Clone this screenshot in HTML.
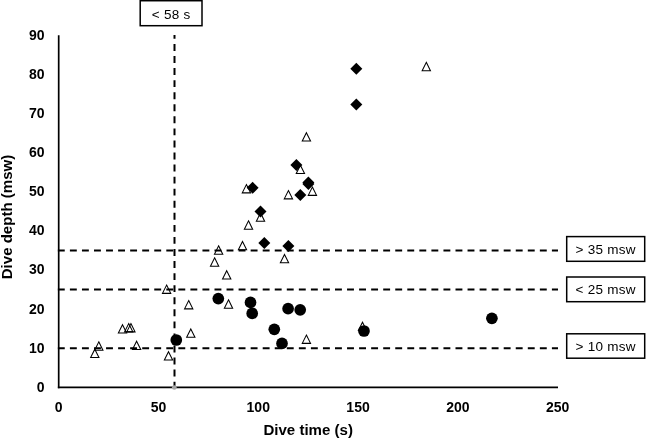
<!DOCTYPE html>
<html><head><meta charset="utf-8"><style>
html,body{margin:0;padding:0;background:#fff;}
body{width:646px;height:438px;overflow:hidden;}
svg{display:block;will-change:transform;}
path{fill:none;stroke:#000;stroke-width:1.05;stroke-linejoin:miter;}
path.d{fill:#000;stroke:none;}
circle.c{fill:#000;}
text{font-family:"Liberation Sans",sans-serif;fill:#000;}
.t{font-size:14px;font-weight:bold;}
.ti{font-size:15.5px;font-weight:bold;}
.b{font-size:13.5px;letter-spacing:0.25px;}
</style></head><body>
<svg width="646" height="438" viewBox="0 0 646 438">
<line x1="57.85" y1="250.4" x2="558" y2="250.4" stroke="#000" stroke-width="2" stroke-dasharray="6.9 5.15"/>
<line x1="57.85" y1="289.5" x2="558" y2="289.5" stroke="#000" stroke-width="2" stroke-dasharray="6.9 5.15"/>
<line x1="57.85" y1="348.15" x2="558" y2="348.15" stroke="#000" stroke-width="2" stroke-dasharray="6.9 5.15"/>
<line x1="174.5" y1="35" x2="174.5" y2="387" stroke="#000" stroke-width="2" stroke-dasharray="6.9 5.16" stroke-dashoffset="3.06"/>
<path d="M98.80 341.85L102.95 350.15L94.65 350.15Z"/>
<path d="M94.80 349.25L98.95 357.55L90.65 357.55Z"/>
<path d="M122.50 324.65L126.65 332.95L118.35 332.95Z"/>
<path d="M128.70 323.55L132.85 331.85L124.55 331.85Z"/>
<path d="M130.90 323.55L135.05 331.85L126.75 331.85Z"/>
<path d="M136.60 341.25L140.75 349.55L132.45 349.55Z"/>
<path d="M166.60 285.05L170.75 293.35L162.45 293.35Z"/>
<path d="M188.70 300.55L192.85 308.85L184.55 308.85Z"/>
<path d="M190.80 328.95L194.95 337.25L186.65 337.25Z"/>
<path d="M168.50 351.65L172.65 359.95L164.35 359.95Z"/>
<path d="M228.50 299.85L232.65 308.15L224.35 308.15Z"/>
<path d="M306.40 335.05L310.55 343.35L302.25 343.35Z"/>
<path d="M362.50 322.25L366.65 330.55L358.35 330.55Z"/>
<path d="M218.60 245.85L222.75 254.15L214.45 254.15Z"/>
<path d="M214.60 257.85L218.75 266.15L210.45 266.15Z"/>
<path d="M242.50 241.45L246.65 249.75L238.35 249.75Z"/>
<path d="M226.70 270.75L230.85 279.05L222.55 279.05Z"/>
<path d="M246.40 184.55L250.55 192.85L242.25 192.85Z"/>
<path d="M260.50 212.85L264.65 221.15L256.35 221.15Z"/>
<path d="M248.50 220.85L252.65 229.15L244.35 229.15Z"/>
<path d="M284.50 254.45L288.65 262.75L280.35 262.75Z"/>
<path d="M300.40 165.15L304.55 173.45L296.25 173.45Z"/>
<path d="M312.40 187.05L316.55 195.35L308.25 195.35Z"/>
<path d="M288.40 190.55L292.55 198.85L284.25 198.85Z"/>
<path d="M306.40 132.75L310.55 141.05L302.25 141.05Z"/>
<path d="M426.30 62.35L430.45 70.65L422.15 70.65Z"/>
<path class="d" d="M356.30 62.80L362.30 68.80L356.30 74.80L350.30 68.80Z"/>
<path class="d" d="M356.30 98.60L362.30 104.60L356.30 110.60L350.30 104.60Z"/>
<path class="d" d="M252.60 181.80L258.60 187.80L252.60 193.80L246.60 187.80Z"/>
<path class="d" d="M260.50 205.60L266.50 211.60L260.50 217.60L254.50 211.60Z"/>
<path class="d" d="M264.30 236.90L270.30 242.90L264.30 248.90L258.30 242.90Z"/>
<path class="d" d="M288.40 239.90L294.40 245.90L288.40 251.90L282.40 245.90Z"/>
<path class="d" d="M296.40 159.00L302.40 165.00L296.40 171.00L290.40 165.00Z"/>
<path class="d" d="M308.40 176.60L314.40 182.60L308.40 188.60L302.40 182.60Z"/>
<path class="d" d="M308.40 177.90L314.40 183.90L308.40 189.90L302.40 183.90Z"/>
<path class="d" d="M300.30 188.90L306.30 194.90L300.30 200.90L294.30 194.90Z"/>
<circle class="c" cx="176.30" cy="340.00" r="5.85"/>
<circle class="c" cx="218.30" cy="298.60" r="5.85"/>
<circle class="c" cx="250.50" cy="302.40" r="5.85"/>
<circle class="c" cx="252.20" cy="313.40" r="5.85"/>
<circle class="c" cx="274.30" cy="329.30" r="5.85"/>
<circle class="c" cx="288.10" cy="308.70" r="5.85"/>
<circle class="c" cx="300.20" cy="309.80" r="5.85"/>
<circle class="c" cx="282.00" cy="343.40" r="5.85"/>
<circle class="c" cx="364.00" cy="331.00" r="5.85"/>
<circle class="c" cx="491.90" cy="318.30" r="5.85"/>
<line x1="58.7" y1="35.2" x2="58.7" y2="388.15000000000003" stroke="#000" stroke-width="1.7"/>
<line x1="57.85" y1="387.3" x2="558" y2="387.3" stroke="#000" stroke-width="1.7"/>
<circle cx="174.3" cy="387.5" r="2.35" fill="#a6a6a6"/>
<text class="t" x="44.5" y="391.80" text-anchor="end">0</text>
<text class="t" x="44.5" y="352.69" text-anchor="end">10</text>
<text class="t" x="44.5" y="313.58" text-anchor="end">20</text>
<text class="t" x="44.5" y="274.47" text-anchor="end">30</text>
<text class="t" x="44.5" y="235.36" text-anchor="end">40</text>
<text class="t" x="44.5" y="196.25" text-anchor="end">50</text>
<text class="t" x="44.5" y="157.14" text-anchor="end">60</text>
<text class="t" x="44.5" y="118.03" text-anchor="end">70</text>
<text class="t" x="44.5" y="78.92" text-anchor="end">80</text>
<text class="t" x="44.5" y="39.81" text-anchor="end">90</text>
<text class="t" x="58.70" y="412.0" text-anchor="middle">0</text>
<text class="t" x="158.48" y="412.0" text-anchor="middle">50</text>
<text class="t" x="258.26" y="412.0" text-anchor="middle">100</text>
<text class="t" x="358.04" y="412.0" text-anchor="middle">150</text>
<text class="t" x="457.82" y="412.0" text-anchor="middle">200</text>
<text class="t" x="557.60" y="412.0" text-anchor="middle">250</text>
<text class="ti" transform="translate(308.2 434.7) scale(0.972 1)" text-anchor="middle">Dive time (s)</text>
<text class="ti" transform="translate(11.9 217) rotate(-90) scale(0.972 1)" text-anchor="middle">Dive depth (msw)</text>
<rect x="140.2" y="0.72" width="61.80" height="24.98" fill="#fff" stroke="#000" stroke-width="1.5"/>
<text class="b" x="171.10" y="18.6" text-anchor="middle">&lt; 58 s</text>
<rect x="566.7" y="236.6" width="78.00" height="24.70" fill="#fff" stroke="#000" stroke-width="1.5"/>
<text class="b" x="605.70" y="253.8" text-anchor="middle">&gt; 35 msw</text>
<rect x="566.7" y="277.0" width="78.00" height="24.70" fill="#fff" stroke="#000" stroke-width="1.5"/>
<text class="b" x="605.70" y="294.2" text-anchor="middle">&lt; 25 msw</text>
<rect x="566.7" y="333.8" width="78.00" height="24.40" fill="#fff" stroke="#000" stroke-width="1.5"/>
<text class="b" x="605.70" y="350.9" text-anchor="middle">&gt; 10 msw</text>
</svg>
</body></html>
